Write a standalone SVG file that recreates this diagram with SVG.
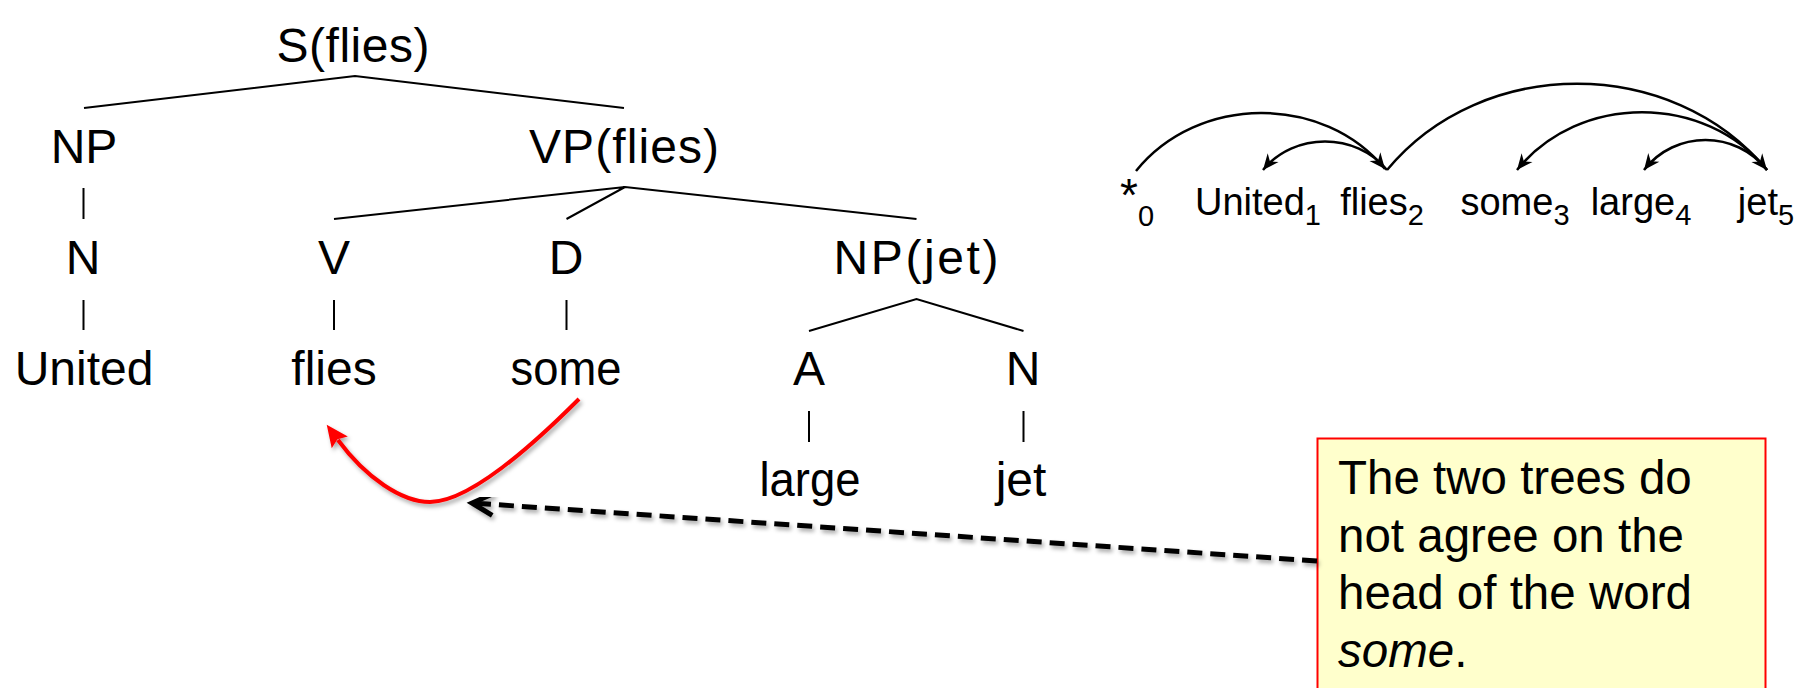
<svg xmlns="http://www.w3.org/2000/svg" width="1814" height="688" viewBox="0 0 1814 688">
  <defs>
    <style>
      .lbl { font-family: "Liberation Sans", Arial, sans-serif; font-size: 48px; fill: #000; text-anchor: middle; }
      .edge { stroke: #000; stroke-width: 2; fill: none; }
      .dep { font-family: "Liberation Sans", Arial, sans-serif; font-size: 38px; fill: #000; text-anchor: middle; }
      .sub { font-size: 29px; }
      .arc { stroke: #000; stroke-width: 2.5; fill: none; marker-end: url(#stealth); }
      .dash { stroke: #000; stroke-width: 5; fill: none; stroke-dasharray: 15 8; marker-end: url(#chevron); filter: url(#shadow); }
      .head { stroke: #f00; stroke-width: 4; fill: none; marker-end: url(#redhead); filter: url(#shadow); }
      .note { font-family: "Liberation Sans", Arial, sans-serif; font-size: 47.5px; fill: #000; }
    </style>
    <filter id="shadow" x="-10%" y="-10%" width="120%" height="140%">
      <feDropShadow dx="2" dy="3" stdDeviation="2" flood-color="#000" flood-opacity="0.35"/>
    </filter>
    <marker id="stealth" markerUnits="userSpaceOnUse" viewBox="-18 -9 20 18" markerWidth="20" markerHeight="18" refX="0" refY="0" orient="auto">
      <path d="M0,0 L-16,-7 L-11,0 L-16,7 Z" fill="#000"/>
    </marker>
    <marker id="chevron" markerUnits="userSpaceOnUse" viewBox="-28 -18 34 36" markerWidth="34" markerHeight="36" refX="0" refY="0" orient="auto">
      <path d="M-21,-11 L0,0 L-21,11" fill="none" stroke="#000" stroke-width="5" stroke-linejoin="miter"/>
    </marker>
    <marker id="redhead" markerUnits="userSpaceOnUse" viewBox="-6 -12 30 24" markerWidth="30" markerHeight="24" refX="0" refY="0" orient="auto">
      <path d="M19,0 L-3,-10 L1,0 L-3,10 Z" fill="#f00"/>
    </marker>
  </defs>

  <!-- phrase-structure tree labels -->
  <g id="node-S"><text class="lbl" x="353" y="62" textLength="153" lengthAdjust="spacing">S(flies)</text></g>
  <g id="node-NP"><text class="lbl" x="84" y="163">NP</text></g>
  <g id="node-VP"><text class="lbl" x="624" y="163" textLength="190" lengthAdjust="spacing">VP(flies)</text></g>
  <g id="node-N1"><text class="lbl" x="83" y="274">N</text></g>
  <g id="node-V"><text class="lbl" x="334" y="274">V</text></g>
  <g id="node-D"><text class="lbl" x="566" y="274">D</text></g>
  <g id="node-NPjet"><text class="lbl" x="916" y="274" textLength="165" lengthAdjust="spacing">NP(jet)</text></g>
  <g id="node-United"><text class="lbl" x="84" y="385">United</text></g>
  <g id="node-flies"><text class="lbl" x="334" y="385">flies</text></g>
  <g id="node-some"><text class="lbl" x="566" y="385" textLength="111" lengthAdjust="spacingAndGlyphs">some</text></g>
  <g id="node-A"><text class="lbl" x="809" y="385">A</text></g>
  <g id="node-N2"><text class="lbl" x="1023" y="385">N</text></g>
  <g id="node-large"><text class="lbl" x="810" y="496" textLength="101" lengthAdjust="spacingAndGlyphs">large</text></g>
  <g id="node-jet"><text class="lbl" x="1021" y="496">jet</text></g>

  <!-- dependency words with position indices -->
  <g id="dep-root"><text class="dep" x="1137" y="211"><tspan font-size="46">*</tspan><tspan class="sub" dy="15">0</tspan></text></g>
  <g id="dep-United"><text class="dep" x="1258" y="215">United<tspan class="sub" dy="10">1</tspan></text></g>
  <g id="dep-flies"><text class="dep" x="1382" y="215">flies<tspan class="sub" dy="10">2</tspan></text></g>
  <g id="dep-some"><text class="dep" x="1515" y="215">some<tspan class="sub" dy="10">3</tspan></text></g>
  <g id="dep-large"><text class="dep" x="1641" y="215">large<tspan class="sub" dy="10">4</tspan></text></g>
  <g id="dep-jet"><text class="dep" x="1766" y="215">jet<tspan class="sub" dy="10">5</tspan></text></g>

  <!-- note box -->
  <g id="note">
    <rect x="1317.5" y="438.5" width="448" height="270" fill="#ffffcc" stroke="#f00" stroke-width="2"/>
    <text class="note" x="1338" y="494">The two trees do</text>
    <text class="note" x="1338" y="551.5">not agree on the</text>
    <text class="note" x="1338" y="609">head of the word</text>
    <text class="note" x="1338" y="666.5"><tspan font-style="italic">some</tspan>.</text>
  </g>

  <g id="connectors">
    <!-- tree edges -->
    <path class="edge" d="M84,108 L355,76 L624,108"/>
    <path class="edge" d="M83.5,188 V219"/>
    <path class="edge" d="M334,219 L625,187 L916.5,219 M625,187 L566.5,219"/>
    <path class="edge" d="M83.5,300 V330 M334,300 V330 M566.5,300 V330"/>
    <path class="edge" d="M809,331 L916.5,299 L1023.5,331"/>
    <path class="edge" d="M809,411 V442 M1023.5,411 V442"/>

    <!-- dependency arcs -->
    <path class="arc" d="M1136,171 C1198,94 1324,94 1385,169"/>
    <path class="arc" d="M1387,170 C1356,132 1294,132 1263,170"/>
    <path class="arc" d="M1387,170 C1482,55 1672,55 1767,170"/>
    <path class="arc" d="M1767,170 C1705,93 1579,93 1517,170"/>
    <path class="arc" d="M1767,170 C1736,130 1675,130 1644,170"/>

    <!-- head of "some" in the tree -->
    <path class="head" d="M579,399 C535,443 470,502 430,502 C402,502 366,478 338,440"/>

    <!-- callout pointers -->
    <path class="dash" d="M1317,561 L472,503"/>
    <path class="dash" d="M1542,438 L1542,231"/>
  </g>
</svg>
